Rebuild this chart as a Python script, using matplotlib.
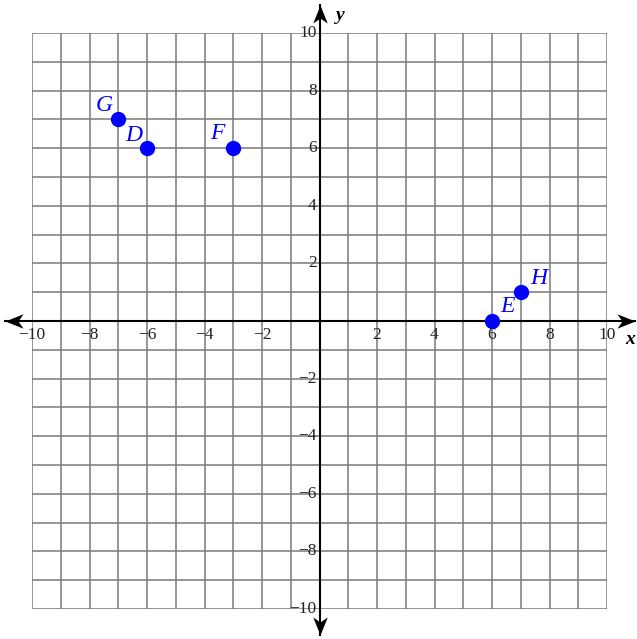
import numpy as np
import matplotlib.pyplot as plt

# points on the grid
names = ['G', 'D', 'F', 'E', 'H']
xs = [-7, -6, -3, 6, 7]
ys = [7, 6, 6, 0, 1]
# label offsets in pixels (dx, dy)
offsets = [(-14, 14), (-13, 13), (-16, 15), (15, 14), (18, 14)]

ticks = [-10, -8, -6, -4, -2, 2, 4, 6, 8, 10]
tick_labels = ['\u2212' + str(-t) if t < 0 else str(t) for t in ticks]

plt.rcParams['font.family'] = ['Liberation Serif', 'DejaVu Serif']

fig = plt.figure(figsize=(6.37, 6.39), dpi=100)
ax = fig.add_axes([32 / 637, 1 - 609 / 639, 575 / 637, 576 / 639])
ax.set_xlim(-10, 10)
ax.set_ylim(-10, 10)

# grid
for v in range(-10, 11):
    ax.axvline(v, color='#7a7a7a', lw=1.1, zorder=1)
    ax.axhline(v, color='#7a7a7a', lw=1.1, zorder=1)
for s in ax.spines.values():
    s.set_visible(False)
ax.set_xticks([])
ax.set_yticks([])

# axes lines with stealth arrowheads
xmin, xmax, ymin, ymax = -10.94, 10.97, -10.92, 10.97
ax.plot([xmin, xmax], [0, 0], color='black', lw=1.5, zorder=3, clip_on=False)
ax.plot([0, 0], [ymin, ymax], color='black', lw=1.5, zorder=3, clip_on=False)

head = np.array([(0, 0), (-1, 0.4), (-0.72, 0), (-1, -0.4), (0, 0)])


def rot(v, deg):
    a = np.radians(deg)
    r = np.array([[np.cos(a), -np.sin(a)], [np.sin(a), np.cos(a)]])
    return [tuple(p) for p in v @ r.T]


for (px, py), ang in [((xmax, 0), 0), ((xmin, 0), 180), ((0, ymax), 90), ((0, ymin), 270)]:
    ax.plot([px], [py], marker=rot(head, ang), markersize=26, color='black',
            markeredgewidth=0, zorder=3, clip_on=False)

# tick labels
for t, lab in zip(ticks, tick_labels):
    ax.text(t, -0.48, lab, ha='center', va='center', fontsize=12.5,
            color='#222222', clip_on=False)
    ax.text(-0.1, t, lab, ha='right', va='center', fontsize=12.5,
            color='#222222', clip_on=False)

ax.text(0.72, 10.6, 'y', fontsize=14, style='italic', fontweight='bold',
        ha='center', va='center', clip_on=False)
ax.text(10.8, -0.65, 'x', fontsize=14, style='italic', fontweight='bold',
        ha='center', va='center', clip_on=False)

# points
ax.plot(xs, ys, 'o', color='#0000ff', markersize=10, zorder=4, clip_on=False)
for n, x, y, (dx, dy) in zip(names, xs, ys, offsets):
    ax.annotate(n, (x, y), xytext=(dx, dy), textcoords='offset pixels',
                ha='center', va='center', fontsize=17, style='italic',
                color='#0000ff', zorder=5)

fig.savefig('out.png', dpi=100)
